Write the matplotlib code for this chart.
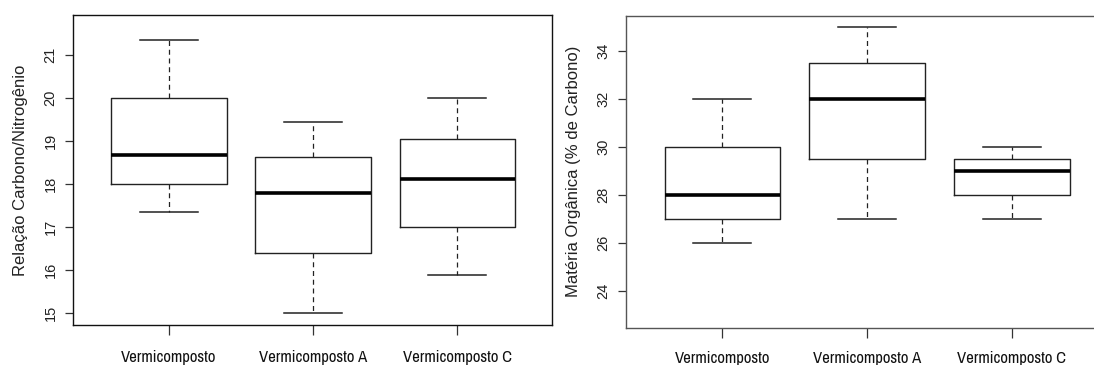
"""boxplots: C/N ratio and organic matter of the vermicompost samples"""

import matplotlib
matplotlib.use('Agg')
import matplotlib.pyplot as plt
from matplotlib import font_manager

categorias = ['Vermicomposto', 'Vermicomposto A', 'Vermicomposto C']

# relação C/N: whisker ends, quartiles, median
cn_min = [17.35, 15.00, 15.88]
cn_q1 = [18.00, 16.39, 17.00]
cn_med = [18.67, 17.78, 18.12]
cn_q3 = [20.00, 18.62, 19.05]
cn_max = [21.33, 19.44, 20.00]
cn_ticks = [15, 16, 17, 18, 19, 20, 21]

# matéria orgânica (% de carbono)
mo_min = [26.0, 27.0, 27.0]
mo_q1 = [27.0, 29.5, 28.0]
mo_med = [28.0, 32.0, 29.0]
mo_q3 = [30.0, 33.5, 29.5]
mo_max = [32.0, 35.0, 30.0]
mo_ticks = [24, 26, 28, 30, 32, 34]

W, H = 1094, 365
fig = plt.figure(figsize=(W / 100, H / 100), dpi=100)
plt.rcParams['font.family'] = ['Liberation Sans', 'DejaVu Sans']

# condensed face for the category names, if one is around
narrow_fams = sorted({f.name for f in font_manager.fontManager.ttflist
                      if 'Narrow' in f.name or 'Condensed' in f.name})
if narrow_fams:
    xfont = dict(family=[narrow_fams[0], 'Liberation Sans'], fontsize=12)
else:
    xfont = dict(family=['Liberation Sans'], fontsize=10.2)


def stats(lo, q1, med, q3, hi):
    return [{'whislo': a, 'q1': b, 'med': c, 'q3': d, 'whishi': e, 'fliers': []}
            for a, b, c, d, e in zip(lo, q1, med, q3, hi)]


def painel(rect, st, ticks, ylim, ylabel, frame, xpad):
    ax = fig.add_axes(rect)
    ax.bxp(st, positions=[1, 2, 3], widths=0.8, showfliers=False,
           boxprops={'color': '#222', 'lw': 1.0},
           whiskerprops={'color': '#222', 'lw': 0.9, 'ls': (0, (4, 3))},
           capprops={'color': '#222', 'lw': 1.1},
           medianprops={'color': 'k', 'lw': 2.6, 'solid_capstyle': 'butt'})
    # staples half as wide as the boxes
    for cap in ax.lines:
        xs = cap.get_xdata()
        if len(xs) == 2 and xs[0] != xs[1] and cap.get_linewidth() < 2:
            c = (xs[0] + xs[1]) / 2
            cap.set_xdata([c - 0.2, c + 0.2])
    ax.set_xlim(0.334, 3.657)
    ax.set_ylim(*ylim)
    ax.set_yticks(ticks)
    ax.set_yticklabels([str(t) for t in ticks], rotation=90, va='center',
                       fontsize=10.5, color='#222')
    ax.set_xticks([1, 2, 3])
    ax.set_xticklabels(categorias, color='#111', **xfont)
    ax.tick_params(axis='y', direction='out', length=6, width=0.9,
                   color='#333', pad=5)
    ax.tick_params(axis='x', direction='out', length=7, width=0.9,
                   color='#333', pad=xpad)
    ax.set_ylabel(ylabel, fontsize=12, color='#222', labelpad=11)
    for s in ax.spines.values():
        s.set_color(frame)
        s.set_linewidth(1.0)
    return ax


painel([73 / W, 1 - 325 / H, 479 / W, 310 / H],
       stats(cn_min, cn_q1, cn_med, cn_q3, cn_max),
       cn_ticks, (14.73, 21.92), 'Relação Carbono/Nitrogênio', '#111', 11)
painel([626 / W, 1 - 327.7 / H, 481 / W, 312 / H],
       stats(mo_min, mo_q1, mo_med, mo_q3, mo_max),
       mo_ticks, (22.47, 35.47), 'Matéria Orgânica (% de Carbono)', '#555', 9.5)

fig.savefig('out.png', dpi=100)
